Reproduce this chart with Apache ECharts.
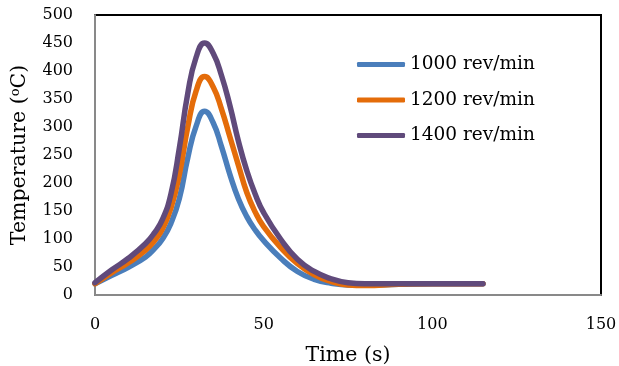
<!DOCTYPE html>
<html>
<head>
<meta charset="utf-8">
<script src="https://cdn.jsdelivr.net/npm/echarts@6/dist/echarts.min.js"></script>
<style>
  html, body { margin: 0; padding: 0; background: #fff; }
  #chart { width: 619px; height: 366px; }
</style>
</head>
<body>
<div id="chart"></div>
<script>
// Time samples (s)
const timeS = [0, 5, 10, 15, 17.5, 20, 22.5, 25, 27.5, 30, 32.5, 35, 37.5, 40, 42.5, 45, 47.5, 50, 55, 60, 65, 70, 75, 80, 90, 100, 115];

// Temperature (°C) for each rotational speed
const temp1000 = [20, 35, 50, 68, 82, 100, 128, 172, 245, 302, 328, 308, 265, 215, 172, 140, 116, 97, 66, 42, 28, 21, 18, 18, 19, 20, 20];
const temp1200 = [20, 40, 58, 80, 96, 118, 155, 215, 300, 365, 390, 372, 332, 282, 232, 183, 148, 122, 85, 56, 36, 24, 18, 17, 19, 20, 20];
const temp1400 = [22, 45, 66, 92, 110, 135, 180, 262, 360, 425, 450, 432, 392, 338, 275, 222, 180, 147, 100, 64, 42, 29, 22, 20, 20, 20, 20];

const seriesNames = ['1000 rev/min', '1200 rev/min', '1400 rev/min'];
const seriesColors = ['#4a7ebb', '#e46c0a', '#604a7b'];
const seriesValues = [temp1000, temp1200, temp1400];

const serif = 'DejaVu Serif';

const chart = echarts.init(document.getElementById('chart'), null, { renderer: 'canvas' });

chart.setOption({
  animation: false,
  backgroundColor: '#ffffff',
  grid: {
    left: 95, right: 18, top: 15, bottom: 71,
    containLabel: false,
    outerBoundsMode: 'none',
    show: true,
    borderColor: '#000000',
    borderWidth: 2,
    backgroundColor: 'transparent'
  },
  legend: {
    orient: 'vertical',
    left: 352,
    top: 49,
    itemWidth: 48,
    itemHeight: 5,
    itemGap: 14.5,
    icon: 'roundRect',
    data: seriesNames,
    textStyle: { fontFamily: serif, fontSize: 18.5, color: '#000', lineHeight: 21 }
  },
  xAxis: {
    type: 'value',
    min: 0, max: 150, interval: 50,
    name: 'Time (s)',
    nameLocation: 'middle',
    nameGap: 50,
    nameTextStyle: { fontFamily: serif, fontSize: 20.5, color: '#000' },
    axisLine: { show: true, lineStyle: { color: '#898989', width: 2 } },
    axisTick: { show: false },
    splitLine: { show: false },
    axisLabel: { fontFamily: serif, fontSize: 16, color: '#000', margin: 22 }
  },
  yAxis: {
    type: 'value',
    min: 0, max: 500, interval: 50,
    name: '{t|Temperature (}{s|o}{t|C)}',
    nameLocation: 'middle',
    nameGap: 64,
    nameTextStyle: {
      fontFamily: serif, fontSize: 20.5, color: '#000',
      rich: {
        t: { fontFamily: serif, fontSize: 20.5, color: '#000' },
        s: { fontFamily: serif, fontSize: 13, color: '#000', verticalAlign: 'top', padding: [0, 0, 9, 0] }
      }
    },
    axisLine: { show: true, lineStyle: { color: '#898989', width: 2 } },
    axisTick: { show: false },
    splitLine: { show: false },
    axisLabel: { fontFamily: serif, fontSize: 16, color: '#000', margin: 22 }
  },
  series: seriesNames.map((name, i) => ({
    name: name,
    type: 'line',
    smooth: 0.5,
    showSymbol: false,
    symbol: 'none',
    color: seriesColors[i],
    lineStyle: { width: 5.5, color: seriesColors[i], cap: 'round', join: 'round' },
    data: timeS.map((t, j) => [t, seriesValues[i][j]])
  }))
});
</script>
</body>
</html>
